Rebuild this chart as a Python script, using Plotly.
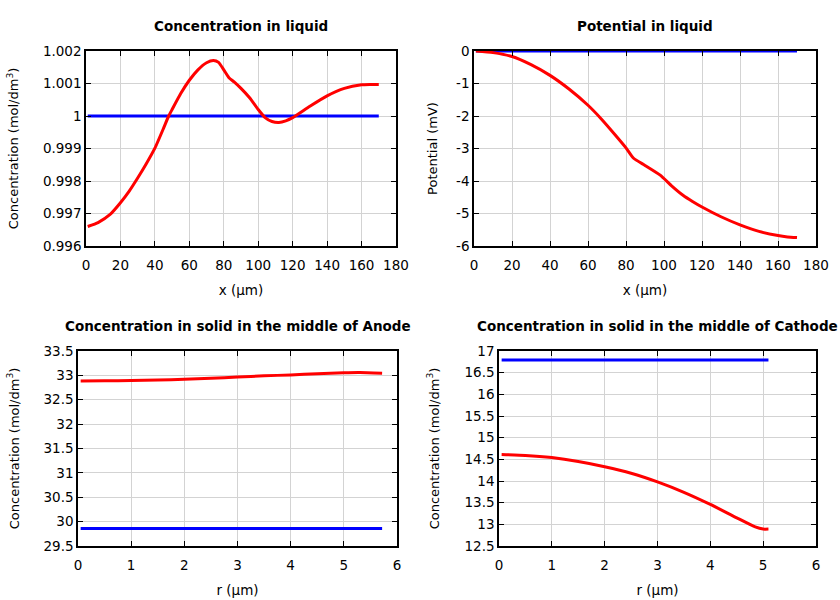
import plotly.graph_objects as go

# ---- Data ----
liq_x = [1, 7, 14, 20, 25, 30, 35, 40, 45, 48, 50, 55, 60, 65, 70, 74, 77, 80, 83, 86, 90, 95, 100, 104, 108, 112, 116, 120, 130, 140, 150, 160, 165, 170]
liq_c = [0.99660, 0.99672, 0.99697, 0.99733, 0.99768, 0.99809, 0.99853, 0.99901, 0.99962, 1.00000, 1.00020, 1.00069, 1.00110, 1.00142, 1.00164, 1.00171, 1.00165, 1.00142, 1.00118, 1.00105, 1.00085, 1.00056, 1.00020, 0.99995, 0.99983, 0.99980, 0.99985, 0.99995, 1.00030, 1.00062, 1.00085, 1.00096, 1.00097, 1.00097]
liq_c0 = [1.0] * len(liq_x)

pot_x = [1, 10, 20, 30, 40, 50, 60, 67, 74, 80, 84, 90, 98, 104, 110, 115, 120, 130, 140, 150, 160, 165, 170]
pot_v = [0.0, -0.05, -0.17, -0.42, -0.75, -1.17, -1.67, -2.09, -2.56, -2.98, -3.30, -3.52, -3.82, -4.15, -4.44, -4.63, -4.80, -5.10, -5.35, -5.55, -5.68, -5.72, -5.74]
pot_v0 = [0.0] * len(pot_x)
pot_ticks = [0, -1, -2, -3, -4, -5, -6]
pot_labels = ["0", "-1", "-2", "-3", "-4", "-5", "-6"]

an_r = [0.05, 0.5, 1.0, 1.5, 2.0, 2.5, 3.0, 3.5, 4.0, 4.5, 5.0, 5.3, 5.72]
an_c = [32.885, 32.888, 32.895, 32.905, 32.92, 32.94, 32.965, 32.99, 33.01, 33.035, 33.055, 33.06, 33.045]
an_c0 = [29.86] * len(an_r)

ca_r = [0.05, 0.5, 1.0, 1.5, 2.0, 2.5, 3.0, 3.5, 4.0, 4.5, 4.85, 5.0, 5.1]
ca_c = [14.61, 14.59, 14.54, 14.45, 14.33, 14.18, 13.98, 13.74, 13.46, 13.15, 12.94, 12.89, 12.89]
ca_c0 = [16.79] * len(ca_r)

titles = ["Concentration in liquid", "Potential in liquid",
          "Concentration in solid in the middle of Anode",
          "Concentration in solid in the middle of Cathode"]

RED = "#ff0000"
BLUE = "#0000ff"
FONT = "DejaVu Sans"

fig = go.Figure()

def add(x, y, color, ax):
    fig.add_trace(go.Scatter(x=x, y=y, mode="lines",
                             line=dict(color=color, width=3, shape="spline", smoothing=0.5),
                             xaxis="x" + ax, yaxis="y" + ax, showlegend=False))

add(liq_x, liq_c0, BLUE, "")
add(liq_x, liq_c, RED, "")
add(pot_x, pot_v0, BLUE, "2")
add(pot_x, pot_v, RED, "2")
add(an_r, an_c, RED, "3")
add(an_r, an_c0, BLUE, "3")
add(ca_r, ca_c0, BLUE, "4")
add(ca_r, ca_c, RED, "4")

W, H = 840, 600
doms_x = [(86, 396), (474, 816), (78, 397), (499, 816)]
doms_y = [(51, 246), (51, 246), (351, 546), (351, 546)]

xranges = [(0, 180), (0, 180), (0, 6), (0, 6)]
yranges = [(0.996, 1.002), (-6, 0), (29.5, 33.5), (12.5, 17)]
xdt = [20, 20, 1, 1]
ydt = [0.001, 1, 0.5, 0.5]
xtitles = ["x (µm)", "x (µm)", "r (µm)", "r (µm)"]
ytitles = ["Concentration (mol/dm<sup>3</sup>)", "Potential (mV)",
           "Concentration (mol/dm<sup>3</sup>)", "Concentration (mol/dm<sup>3</sup>)"]
ystandoff = [21, 16, 21, 22]

layout = dict(width=W, height=H, margin=dict(l=0, r=0, t=0, b=0),
              paper_bgcolor="white", plot_bgcolor="white",
              font=dict(family=FONT, size=13, color="black"))

for i in range(4):
    sfx = "" if i == 0 else str(i + 1)
    x0, x1 = doms_x[i]
    y0, y1 = doms_y[i]
    common = dict(showline=True, linecolor="black", linewidth=1.5, mirror="ticks",
                  ticks="inside", ticklen=5, tickcolor="black", tickwidth=1,
                  showgrid=True, gridcolor="#d3d3d3", gridwidth=1, zeroline=False,
                  automargin=False,
                  tickfont=dict(family=FONT, size=13.5, color="black"))
    ax_x = dict(common, domain=[x0 / W, x1 / W], range=list(xranges[i]),
                dtick=xdt[i], tick0=0, anchor="y" + sfx, ticklabelstandoff=6,
                title=dict(text=xtitles[i], standoff=14, font=dict(family=FONT, size=13.5)))
    ax_y = dict(common, domain=[1 - y1 / H, 1 - y0 / H], range=list(yranges[i]),
                dtick=ydt[i], tick0=0, anchor="x" + sfx,
                title=dict(text=ytitles[i], standoff=ystandoff[i], font=dict(family=FONT, size=13)))
    if i == 0:
        ax_y["tickformat"] = ".3~f"
    if i == 1:
        ax_y.update(tickmode="array", tickvals=pot_ticks, ticktext=pot_labels)
    layout["xaxis" + sfx] = ax_x
    layout["yaxis" + sfx] = ax_y

fig.update_layout(**layout)

for i in range(4):
    x0, x1 = doms_x[i]
    y0, _ = doms_y[i]
    fig.add_annotation(text="<b>" + titles[i] + "</b>", x=(x0 + x1) / 2 / W, y=1 - (y0 - 25) / H,
                       xref="paper", yref="paper", showarrow=False,
                       font=dict(family=FONT, size=13.5, color="black"),
                       xanchor="center", yanchor="middle")

fig.write_html("out.html", config={"displayModeBar": False},
               post_script="document.body.style.margin='0';")
